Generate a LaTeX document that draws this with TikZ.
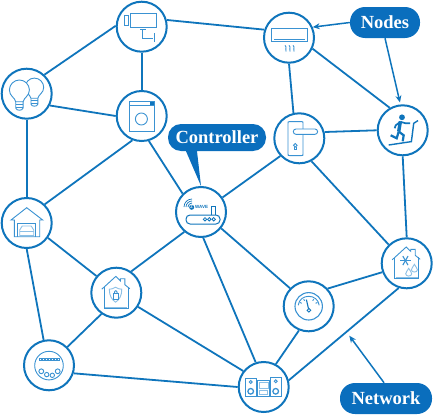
\documentclass[tikz,border=0pt]{standalone}
\usepackage{fontspec}
\setmainfont{Liberation Serif}
\setsansfont{Liberation Sans}
\usepackage{tikz}
\usetikzlibrary{arrows.meta}
\definecolor{netblue}{HTML}{0F75BC}
\definecolor{tagblue}{HTML}{0A6EBD}
\definecolor{iconblue}{HTML}{3A92D2}
\definecolor{softblue}{HTML}{8CC0E6}
\tikzset{
  dev/.style={circle, draw=netblue, line width=2pt, fill=white, minimum size=50pt, inner sep=0pt},
  link/.style={draw=netblue, line width=1.8pt},
  tag/.style={fill=tagblue, rounded corners=13pt, text=white, inner sep=0pt, font=\fontsize{18.5}{18.5}\selectfont\bfseries},
  callout/.style={draw=netblue, line width=1.5pt, -{Stealth[length=7pt,width=6pt]}},
  ico/.style={draw=iconblue, line width=0.9pt},
  soft/.style={draw=softblue, line width=0.9pt},
  bulbicon/.pic={
    \path[ico, fill=white] (-3.7,11.7) .. controls (-4.5,7.5) and (-10,6) .. (-10,0) .. controls (-10,-5.5) and (-5.5,-10) .. (0,-10) .. controls (5.5,-10) and (10,-5.5) .. (10,0) .. controls (10,6) and (4.5,7.5) .. (3.7,11.7) -- cycle;
    \draw[ico] (-3.7,14.2) -- (3.7,14.2);
    \draw[ico] (-3.7,11.7) -- (-3.7,18) .. controls (-3,21) and (3,21) .. (3.7,18) -- (3.7,11.7);
    \draw[ico] (-3.7,17) -- (3.7,17);
  },
  homeicon/.pic={
    \draw[ico] (-14.5,-3.5) -- (-0.5,-16.3) -- (4,-12) -- (4,-14) -- (8.5,-14) -- (8.5,-8) -- (13.5,-4);
    \draw[ico] (-12,-5.5) -- (-12,15.5) -- (12,15.5) -- (12,-6);
    \draw[soft] (-11,14.5) -- (11,14.5);
  }
}

\begin{document}
\begin{tikzpicture}[x=1pt, y=-1pt]
  \useasboundingbox (0,0) rectangle (434,415);
  % Devices
  \node[dev] (cam) at (141.7,26.7) {};
  \node[dev] (bulb) at (26.7,93.7) {};
  \node[dev] (wash) at (141.7,116) {};
  \node[dev] (gar) at (26.7,223) {};
  \node[dev] (shield) at (116.3,292.7) {};
  \node[dev] (meter) at (49,365.3) {};
  \node[dev] (ac) at (289,37.7) {};
  \node[dev] (door) at (299.3,138.3) {};
  \node[dev] (tread) at (402.7,130.3) {};
  \node[dev] (router) at (201,212) {};
  \node[dev] (climate) at (406.7,263.3) {};
  \node[dev] (gauge) at (308.7,306.3) {};
  \node[dev] (stereo) at (263.7,387) {};
  % Network
  \draw[link] (cam.178) -- (bulb.47);
  \draw[link] (cam.-90) -- (wash.90);
  \draw[link] (cam.15) -- (ac.162);
  \draw[link] (bulb.-27) -- (wash.180);
  \draw[link] (bulb.-90) -- (gar.90);
  \draw[link] (wash.-111) -- (gar.46);
  \draw[link] (wash.-74) -- (router.135);
  \draw[link] (ac.-90) -- (door.103.5);
  \draw[link] (ac.-25) -- (tread.120.7);
  \draw[link] (door.14.6) -- (tread.180);
  \draw[link] (door.-137) -- (router.34);
  \draw[link] (door.-62.7) -- (climate.134);
  \draw[link] (tread.-90) -- (climate.90);
  \draw[link] (router.-130) -- (shield.55.5);
  \draw[link] (router.-85) -- (stereo.108);
  \draw[link] (router.-39.5) -- (gauge.136);
  \draw[link] (gar.-35) -- (shield.140);
  \draw[link] (gar.-90) -- (meter.102);
  \draw[link] (shield.-125.7) -- (meter.45.5);
  \draw[link] (shield.-33) -- (stereo.142);
  \draw[link] (meter.-18.6) -- (stereo.180);
  \draw[link] (gauge.43.5) -- (climate.200.5);
  \draw[link] (gauge.-112) -- (stereo.62);
  \draw[link] (climate.-108) -- (stereo.15);
  % Tags
  \node[tag, rounded corners=15pt, minimum width=70pt, minimum height=31pt] (nodes) at (385,22.5) {Nodes};
  \node[tag, minimum width=98pt, minimum height=27pt] (ctrl) at (217,137.5) {Controller};
  \node[tag, rounded corners=15pt, minimum width=92pt, minimum height=31pt] (network) at (386,398.5) {Network};
  \coordinate (netpt) at (349.3,335.7);
  \fill[tagblue] ([xshift=-31pt]ctrl.south) -- (router.north) -- ([xshift=-20pt]ctrl.south) -- cycle;
  \draw[callout] (nodes.west) -- (ac.24);
  \draw[callout, shorten >=2pt] (nodes.south) -- (tread.95);
  \draw[callout] (network.97) -- (netpt);
  % Camera
  \begin{scope}[shift={(cam.center)}]
    \draw[ico] (-11.7,-13.3) rectangle (14.3,0.7);
    \draw[ico] (-17.3,-11.7) rectangle (-13.3,-1.3);
    \draw[ico] (-1.7,2.7) -- (4.3,2.7);
    \draw[ico] (1,2.7) -- (1,11.3) -- (11.7,11.3);
    \draw[ico] (12.7,6.7) -- (12.7,15.3);
  \end{scope}
  % Bulbs
  \begin{scope}[shift={(bulb.center)}]
    \pic[scale=0.93] at (7.7,-6.3) {bulbicon};
    \pic at (-7.3,-3.7) {bulbicon};
  \end{scope}
  % Washer
  \begin{scope}[shift={(wash.center)}]
    \draw[ico] (-12.7,-14.7) rectangle (12.7,15.3);
    \draw[ico] (-12.7,-10.7) -- (12.7,-10.7);
    \fill[netblue] (8.5,-14) rectangle (12,-11.5);
    \draw[ico] (-0.3,3) circle[radius=6];
  \end{scope}
  % Garage
  \begin{scope}[shift={(gar.center)}]
    \draw[ico] (-15.7,-3) -- (0,-15.3) -- (16,-3) -- (13,-3) -- (13,13.7) -- (-12.3,13.7) -- (-12.3,-3) -- cycle;
    \draw[ico] (-9,13.7) -- (-9,0) -- (9,0) -- (9,13.7);
    \draw[soft] (-7,12.5) -- (-7,7) -- (-4.5,3) -- (4.5,3) -- (7,7) -- (7,12.5) -- cycle;
    \draw[soft] (-7,8) -- (7,8);
  \end{scope}
  % Shield house
  \begin{scope}[shift={(shield.center)}]
    \pic {homeicon};
    \draw[soft] (-0.7,-5.5) .. controls (-3,-4) and (-5,-3.5) .. (-7,-3.5) .. controls (-7,3) and (-4.5,7) .. (-0.7,9.5) .. controls (3,7) and (5.5,3) .. (5.5,-3.5) .. controls (3.5,-3.5) and (1.5,-4) .. (-0.7,-5.5) -- cycle;
    \draw[ico] (-3.3,1) rectangle (2.3,7);
    \draw[ico] (-2,1) .. controls (-2,-3) and (1,-3) .. (1,1);
  \end{scope}
  % Meter
  \begin{scope}[shift={(meter.center)}]
    \draw[ico] (0,0.3) circle[radius=14.3];
    \foreach \px in {-9,-6,-3,0,3,6,9}
      \draw[ico, line width=0.6pt] (\px-1,-7.3) rectangle (\px+1,-5.3);
    \draw[ico] (-7.7,6) circle[radius=2.4];
    \draw[ico] (-2.3,9.3) circle[radius=2.2];
    \draw[ico] (3.3,10) circle[radius=2.2];
    \draw[ico] (8.7,6) circle[radius=2.4];
  \end{scope}
  % Stereo
  \begin{scope}[shift={(stereo.center)}]
    \draw[ico] (-18.3,-9) rectangle (-7.7,9.3);
    \draw[ico] (6.7,-9.7) rectangle (17.3,9.3);
    \draw[ico] (-6,-6.3) rectangle (5.7,9.3);
    \draw[soft] (-4.7,-4.7) rectangle (4.3,1);
    \draw[soft] (-4.3,3.5) rectangle (4,7.5);
    \draw[ico] (-13,-5) circle[radius=1.5];
    \draw[ico] (12,-5.7) circle[radius=1.5];
    \draw[ico, line width=1.3pt] (-13,4.3) circle[radius=2.8];
    \draw[ico, line width=1.3pt] (12,4.3) circle[radius=2.8];
  \end{scope}
  % Air conditioner
  \begin{scope}[shift={(ac.center)}]
    \draw[ico] (-18,-9.3) rectangle (18,4);
    \draw[ico, line width=1.3pt] (-15,2) -- (16,2);
    \foreach \px in {-4,0,4}
      \draw[ico] (\px,7.7) .. controls (\px+2.5,9.5) and (\px-0.5,12) .. (\px+1,14);
  \end{scope}
  % Door handle
  \begin{scope}[shift={(door.center)}]
    \draw[ico] (-11.3,-15) .. controls (-11.3,-16.7) .. (-9.5,-16.7) -- (2,-16.7) .. controls (3.7,-16.7) .. (3.7,-15) -- (3.7,15.5) .. controls (3.7,17.3) .. (2,17.3) -- (-9.5,17.3) .. controls (-11.3,17.3) .. (-11.3,15.5) -- cycle;
    \draw[ico, fill=white, rounded corners=2.6pt] (-6,-9.3) rectangle (18.3,-4);
    \draw[ico] (-4,7) circle[radius=1.8];
    \draw[ico] (-4.8,8.5) -- (-4.8,10.7) -- (-3.2,10.7) -- (-3.2,8.5);
  \end{scope}
  % Treadmill
  \begin{scope}[shift={(tread.center)}]
    \fill[netblue] (-0.7,-13) circle[radius=2.9];
    \draw[netblue, line width=3.4pt] (-2.3,-9) -- (-4,1.3);
    \draw[netblue, line width=1.7pt] (-2.3,-8.5) -- (3,-7) -- (7.5,-7);
    \draw[netblue, line width=1.7pt] (-2.3,-8.5) -- (-7,-5) -- (-8,-2);
    \draw[netblue, line width=2.2pt] (-4,1.3) -- (1,5) -- (0,11);
    \draw[netblue, line width=2.2pt] (-4,1.3) -- (-6,8) -- (-12,5);
    \draw[netblue, line width=1.4pt] (-14,14.7) -- (8.7,11.3) -- (11,-7) -- (15.3,-9.7);
  \end{scope}
  % Router
  \begin{scope}[shift={(router.center)}]
    \draw[netblue, line width=1pt, rounded corners=4pt] (-15,3) rectangle (19,12);
    \draw[netblue, line width=0.9pt] (10,3) -- (10,-6) -- (14,-6) -- (14,3);
    \foreach \px in {4,8.3,12.7}
      \draw[netblue, line width=0.8pt] (\px,7.3) circle[radius=1.7];
    \foreach \pr in {4,6,8}
      \draw[netblue, line width=0.7pt] (-9-\pr,-5) .. controls (-9-\pr,-5-0.55*\pr) and (-9-0.55*\pr,-5-\pr) .. (-9,-5-\pr);
    \node[circle, fill=netblue, text=white, inner sep=0pt, minimum size=5pt, font=\fontsize{4}{4}\selectfont\sffamily\bfseries] (zmark) at (-9.3,-4.7) {Z};
    \node[text=netblue, inner sep=0pt, font=\fontsize{4.5}{4.5}\selectfont\sffamily\bfseries] (zwave) at (0.7,-4.7) {WAVE};
  \end{scope}
  % Climate house
  \begin{scope}[shift={(climate.center)}]
    \pic {homeicon};
    \foreach \pa in {0,60,120}
      \draw[ico, line width=1.1pt] ({-1.3+5.2*cos(\pa)},{-2.7+5.2*sin(\pa)}) -- ({-1.3-5.2*cos(\pa)},{-2.7-5.2*sin(\pa)});
    \draw[soft] (2,5) .. controls (0.5,8) and (-1,9) .. (-1,10.5) .. controls (-1,13.5) and (5,13.5) .. (5,10.5) .. controls (5,9) and (3.5,8) .. (2,5) -- cycle;
    \draw[soft] (7.7,1) .. controls (6.2,4) and (4.7,5) .. (4.7,6.5) .. controls (4.7,9.5) and (10.7,9.5) .. (10.7,6.5) .. controls (10.7,5) and (9.2,4) .. (7.7,1) -- cycle;
  \end{scope}
  % Gauge
  \begin{scope}[shift={(gauge.center)}]
    \draw[ico, line width=1.1pt] (0,0) circle[radius=13.7];
    \draw[ico] (-10.5,-1) .. controls (-9,-13) and (9,-13) .. (10.5,-1);
    \foreach \pa in {-60,-30,30,60}
      \draw[ico] ({10*sin(\pa)},{-1-8.7*cos(\pa)+1.5}) -- ({8*sin(\pa)},{-1-7*cos(\pa)+1.5});
    \draw[netblue, line width=1.1pt] (0,3.3) -- (-2.3,-6.7);
    \draw[netblue, line width=0.9pt, fill=white] (0.2,4) circle[radius=1.8];
  \end{scope}
\end{tikzpicture}
\end{document}
